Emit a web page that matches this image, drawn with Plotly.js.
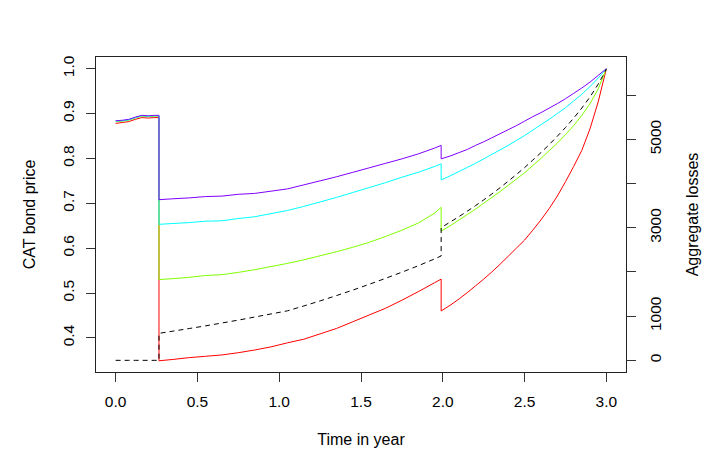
<!DOCTYPE html>
<html>
<head>
<meta charset="utf-8">
<script src="https://cdn.plot.ly/plotly-3.0.1.min.js"></script>
<style>
  html, body { margin: 0; padding: 0; background: #fff; }
  #catbond_myDiv { width: 722px; height: 469px; }
</style>
</head>
<body>
<div id="catbond_myDiv"></div>
<script>
// time grid (years); repeated times are the jumps
var timeYear = [0, 0.04, 0.08, 0.12, 0.16, 0.20, 0.24, 0.265,
  0.265, 0.35, 0.45, 0.55, 0.65, 0.75, 0.85, 0.95, 1.05, 1.15, 1.25, 1.35, 1.45, 1.55, 1.65, 1.75, 1.85, 1.95, 1.99,
  1.99, 2.05, 2.10, 2.15, 2.20, 2.25, 2.30, 2.35, 2.40, 2.45, 2.50, 2.55, 2.60, 2.65, 2.70, 2.75, 2.80, 2.85, 2.90, 2.95, 3.0];

var priceRed = [0.878, 0.880, 0.882, 0.887, 0.891, 0.890, 0.891, 0.891,
  0.349, 0.352, 0.356, 0.359, 0.362, 0.367, 0.373, 0.380, 0.389, 0.397, 0.409, 0.421, 0.436, 0.451, 0.466, 0.484, 0.503, 0.523, 0.531,
  0.460, 0.474, 0.487, 0.501, 0.516, 0.531, 0.547, 0.564, 0.582, 0.600, 0.618, 0.640, 0.663, 0.688, 0.716, 0.748, 0.782, 0.818, 0.866, 0.926, 1.0];

var priceGreen = [0.882, 0.883, 0.885, 0.890, 0.894, 0.893, 0.894, 0.894,
  0.530, 0.532, 0.535, 0.539, 0.541, 0.546, 0.552, 0.559, 0.566, 0.574, 0.583, 0.592, 0.602, 0.613, 0.626, 0.640, 0.656, 0.678, 0.691,
  0.638, 0.651, 0.663, 0.675, 0.687, 0.700, 0.713, 0.726, 0.740, 0.754, 0.768, 0.784, 0.800, 0.817, 0.834, 0.853, 0.873, 0.896, 0.922, 0.955, 1.0];

var priceCyan = [0.883, 0.884, 0.886, 0.891, 0.895, 0.894, 0.895, 0.895,
  0.653, 0.655, 0.657, 0.660, 0.661, 0.666, 0.670, 0.677, 0.684, 0.693, 0.703, 0.713, 0.724, 0.735, 0.746, 0.758, 0.769, 0.782, 0.788,
  0.752, 0.762, 0.771, 0.780, 0.789, 0.799, 0.809, 0.819, 0.829, 0.840, 0.851, 0.863, 0.875, 0.887, 0.900, 0.913, 0.928, 0.943, 0.960, 0.979, 1.0];

var pricePurple = [0.884, 0.885, 0.887, 0.892, 0.896, 0.895, 0.896, 0.896,
  0.708, 0.710, 0.712, 0.715, 0.716, 0.720, 0.722, 0.727, 0.732, 0.741, 0.750, 0.759, 0.769, 0.779, 0.789, 0.799, 0.810, 0.823, 0.829,
  0.799, 0.806, 0.813, 0.820, 0.829, 0.837, 0.846, 0.855, 0.864, 0.873, 0.883, 0.893, 0.902, 0.912, 0.922, 0.933, 0.945, 0.957, 0.970, 0.985, 1.0];

var aggLosses = [0, 0, 0, 0, 0, 0, 0, 0,
  611, 660, 720, 780, 845, 910, 980, 1050, 1120, 1230, 1345, 1465, 1590, 1720, 1855, 1995, 2140, 2295, 2362,
  3004, 3140, 3255, 3375, 3500, 3630, 3765, 3905, 4055, 4205, 4362, 4530, 4700, 4880, 5070, 5268, 5480, 5710, 5960, 6250, 6588];

var xTicks = [0, 0.5, 1.0, 1.5, 2.0, 2.5, 3.0];
var priceTicks = [0.4, 0.5, 0.6, 0.7, 0.8, 0.9, 1.0];
var lossTicks = [0, 1000, 2000, 3000, 4000, 5000, 6000];
var lossTickText = ['0', '1000', '', '3000', '', '5000', ''];

var lineColors = ['#FF0000', '#80FF00', '#00FFFF', '#8000FF'];
var fontFamily = 'Liberation Sans, Arial, sans-serif';

function priceTrace(values, color){
  return {x: timeYear, y: values, type: 'scatter', mode: 'lines',
    line: {color: color, width: 1, simplify: false}, hoverinfo: 'skip'};
}

function catbondMain(){
  var data = [
    priceTrace(priceRed, lineColors[0]),
    priceTrace(priceGreen, lineColors[1]),
    priceTrace(priceCyan, lineColors[2]),
    priceTrace(pricePurple, lineColors[3]),
    {x: timeYear, y: aggLosses, type: 'scatter', mode: 'lines', yaxis: 'y2',
      line: {color: '#000', width: 1, dash: '5px,4px', simplify: false}, hoverinfo: 'skip'}
  ];

  var layout = {
    width: 722,
    height: 469,
    showlegend: false,
    paper_bgcolor: '#fff',
    plot_bgcolor: '#fff',
    font: {family: fontFamily, size: 15.5, color: '#000'},
    margin: {l: 96, r: 96, t: 57, b: 97, pad: 0},
    xaxis: {
      range: [-0.12, 3.12],
      tickvals: xTicks,
      tickformat: '.1f',
      ticks: 'outside', ticklen: 9, tickcolor: '#333', tickwidth: 1,
      showline: true, mirror: true, linecolor: '#222', linewidth: 1.3,
      showgrid: false, zeroline: false,
      ticklabelstandoff: 6,
      title: {text: 'Time in year', font: {size: 16}, standoff: 25}
    },
    yaxis: {
      range: [0.324, 1.026],
      tickvals: priceTicks,
      tickformat: '.1f',
      tickangle: -90,
      ticks: 'outside', ticklen: 9, tickcolor: '#333', tickwidth: 1,
      showline: true, mirror: true, linecolor: '#222', linewidth: 1.3,
      showgrid: false, zeroline: false,
      ticklabelstandoff: 6,
      title: {text: 'CAT bond price', font: {size: 16}, standoff: 20}
    },
    yaxis2: {
      overlaying: 'y',
      side: 'right',
      range: [-264, 6864],
      tickvals: lossTicks,
      ticktext: lossTickText,
      tickangle: -90,
      ticks: 'outside', ticklen: 9, tickcolor: '#333', tickwidth: 1,
      showline: false,
      showgrid: false, zeroline: false,
      ticklabelstandoff: 6,
      title: {text: 'Aggregate losses', font: {size: 16}, standoff: 24}
    }
  };

  Plotly.newPlot('catbond_myDiv', data, layout, {staticPlot: true, displayModeBar: false});
}

catbondMain();
</script>
</body>
</html>
